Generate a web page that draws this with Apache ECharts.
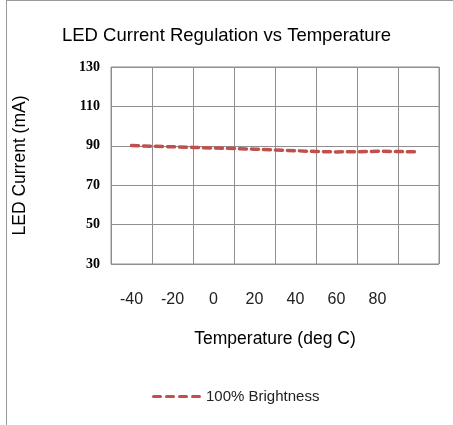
<!DOCTYPE html>
<html>
<head>
<meta charset="utf-8">
<style>
html,body{margin:0;padding:0;background:#fff;}
#chart{width:453px;height:425px;}
</style>
<script src="https://cdn.jsdelivr.net/npm/echarts@6/dist/echarts.min.js"></script>
</head>
<body>
<div id="chart"></div>
<script>
const temperatures = [-40, -30, -20, -10, 0, 10, 20, 30, 40, 50, 60, 70, 80, 90, 100];
const current100 = [90.1, 89.8, 89.5, 89.2, 88.9, 88.6, 88.3, 87.9, 87.5, 87.1, 86.9, 87.0, 87.2, 87.1, 86.9];
const xTickLabels = [-40, -20, 0, 20, 40, 60, 80];
const yTickLabels = [30, 50, 70, 90, 110, 130];

const chart = echarts.init(document.getElementById('chart'));
const gridColor = '#8f8f8f';
const dashIcon = 'path://M1.5,0H8.5A1.5,1.5,0,0,1,8.5,3H1.5A1.5,1.5,0,0,1,1.5,0Z' +
  'M14.5,0H21.5A1.5,1.5,0,0,1,21.5,3H14.5A1.5,1.5,0,0,1,14.5,0Z' +
  'M27.5,0H34.5A1.5,1.5,0,0,1,34.5,3H27.5A1.5,1.5,0,0,1,27.5,0Z' +
  'M40.5,0H47.5A1.5,1.5,0,0,1,47.5,3H40.5A1.5,1.5,0,0,1,40.5,0Z';
chart.setOption({
  animation: false,
  backgroundColor: '#fff',
  title: {
    text: 'LED Current Regulation vs Temperature',
    left: 'center', top: 21,
    textStyle: {fontFamily: 'Liberation Sans', fontSize: 18.5, fontWeight: 'normal', color: '#000'}
  },
  graphic: [
    {type: 'line', shape: {x1: 6.5, y1: 0, x2: 6.5, y2: 425}, style: {stroke: '#9a9a9a', lineWidth: 1}},
    {type: 'line', shape: {x1: 6, y1: 0.5, x2: 453, y2: 0.5}, style: {stroke: '#9a9a9a', lineWidth: 1}}
  ],
  legend: {
    bottom: 16, left: 147,
    itemWidth: 49, itemHeight: 3.5, itemGap: 5,
    textStyle: {fontFamily: 'Liberation Sans', fontSize: 15, color: '#222'},
    data: [{name: '100% Brightness', icon: dashIcon, itemStyle: {color: '#c0504d'}}]
  },
  grid: {left: 111, right: 14, top: 67, bottom: 161, show: true, borderColor: gridColor, borderWidth: 1},
  xAxis: {
    type: 'value', min: -50, max: 110, interval: 10,
    name: 'Temperature (deg C)', nameLocation: 'middle', nameGap: 66,
    nameTextStyle: {fontFamily: 'Liberation Sans', fontSize: 17.5, color: '#000'},
    axisLine: {show: false}, axisTick: {show: false},
    axisLabel: {
      margin: 28, fontFamily: 'Liberation Sans', fontSize: 16, color: '#222',
      formatter: v => xTickLabels.indexOf(v) >= 0 ? String(v) : ''
    },
    splitLine: {show: true, lineStyle: {color: [gridColor, 'rgba(0,0,0,0)'], width: 1}}
  },
  yAxis: {
    type: 'value', min: 30, max: 130, interval: 10,
    name: 'LED Current (mA)', nameLocation: 'middle', nameGap: 82,
    nameTextStyle: {fontFamily: 'Liberation Sans', fontSize: 17.5, color: '#000'},
    axisLine: {show: false}, axisTick: {show: false},
    axisLabel: {
      margin: 11, fontFamily: 'Liberation Serif', fontWeight: 'bold', fontSize: 14, color: '#000',
      formatter: v => yTickLabels.indexOf(v) >= 0 ? String(v) : ''
    },
    splitLine: {show: true, lineStyle: {color: [gridColor, 'rgba(0,0,0,0)'], width: 1}}
  },
  series: [{
    name: '100% Brightness', type: 'line',
    data: temperatures.map((t, i) => [t, current100[i]]),
    symbol: 'none', smooth: false,
    lineStyle: {color: '#c0504d', width: 3.5, type: [7, 5], cap: 'round'},
    itemStyle: {color: '#c0504d'}
  }]
});
</script>
</body>
</html>
